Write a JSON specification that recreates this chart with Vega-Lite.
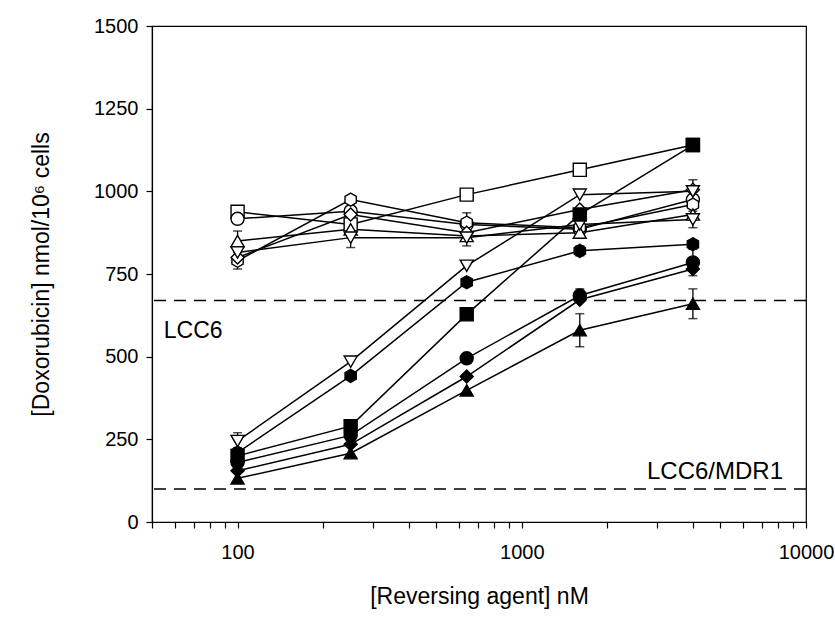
{
  "$schema": "https://vega.github.io/schema/vega-lite/v6.json",
  "autosize": "none",
  "width": 654,
  "height": 496,
  "padding": {"left": 152, "top": 26, "right": 29, "bottom": 98},
  "background": "white",
  "config": {
    "view": {"stroke": "black", "strokeWidth": 1.2},
    "font": "Liberation Sans",
    "axis": {
      "domainColor": "black", "tickColor": "black", "labelColor": "black", "titleColor": "black",
      "labelFont": "Liberation Sans", "titleFont": "Liberation Sans",
      "labelFontSize": 20, "titleFontSize": 23, "titleFontWeight": "normal",
      "grid": false, "tickSize": 6, "domainWidth": 1.2, "tickWidth": 1.2
    }
  },
  "datasets": {
    "pts": [
      {"series": "o-square", "conc": 100, "value": 938},
      {"series": "o-square", "conc": 250, "value": 900},
      {"series": "o-square", "conc": 640, "value": 990},
      {"series": "o-square", "conc": 1600, "value": 1065},
      {"series": "o-square", "conc": 4000, "value": 1140},
      {"series": "o-circle", "conc": 100, "value": 917},
      {"series": "o-circle", "conc": 250, "value": 940},
      {"series": "o-circle", "conc": 640, "value": 900},
      {"series": "o-circle", "conc": 1600, "value": 885},
      {"series": "o-circle", "conc": 4000, "value": 975, "lo": 950, "hi": 1000},
      {"series": "o-hexagon", "conc": 100, "value": 790, "lo": 765, "hi": 815},
      {"series": "o-hexagon", "conc": 250, "value": 975},
      {"series": "o-hexagon", "conc": 640, "value": 905, "lo": 880, "hi": 935},
      {"series": "o-hexagon", "conc": 1600, "value": 890},
      {"series": "o-hexagon", "conc": 4000, "value": 960},
      {"series": "o-triangle", "conc": 100, "value": 850, "lo": 820, "hi": 880},
      {"series": "o-triangle", "conc": 250, "value": 885},
      {"series": "o-triangle", "conc": 640, "value": 865},
      {"series": "o-triangle", "conc": 1600, "value": 875},
      {"series": "o-triangle", "conc": 4000, "value": 930},
      {"series": "o-diamond", "conc": 100, "value": 800},
      {"series": "o-diamond", "conc": 250, "value": 930},
      {"series": "o-diamond", "conc": 640, "value": 875},
      {"series": "o-diamond", "conc": 1600, "value": 945},
      {"series": "o-diamond", "conc": 4000, "value": 1005, "lo": 975, "hi": 1035},
      {"series": "o-down", "conc": 100, "value": 815},
      {"series": "o-down", "conc": 250, "value": 860, "lo": 830, "hi": 890},
      {"series": "o-down", "conc": 640, "value": 860, "lo": 835, "hi": 885},
      {"series": "o-down", "conc": 1600, "value": 900},
      {"series": "o-down", "conc": 4000, "value": 915, "lo": 890, "hi": 940},
      {"series": "o-down2", "conc": 100, "value": 245, "lo": 225, "hi": 270},
      {"series": "o-down2", "conc": 250, "value": 485},
      {"series": "o-down2", "conc": 640, "value": 775},
      {"series": "o-down2", "conc": 1600, "value": 990},
      {"series": "o-down2", "conc": 4000, "value": 1000},
      {"series": "f-square", "conc": 100, "value": 200},
      {"series": "f-square", "conc": 250, "value": 290},
      {"series": "f-square", "conc": 640, "value": 628},
      {"series": "f-square", "conc": 1600, "value": 930},
      {"series": "f-square", "conc": 4000, "value": 1140},
      {"series": "f-hexagon", "conc": 100, "value": 210},
      {"series": "f-hexagon", "conc": 250, "value": 442},
      {"series": "f-hexagon", "conc": 640, "value": 725},
      {"series": "f-hexagon", "conc": 1600, "value": 820, "lo": 805, "hi": 835},
      {"series": "f-hexagon", "conc": 4000, "value": 840},
      {"series": "f-circle", "conc": 100, "value": 180},
      {"series": "f-circle", "conc": 250, "value": 262},
      {"series": "f-circle", "conc": 640, "value": 495},
      {"series": "f-circle", "conc": 1600, "value": 685, "lo": 665, "hi": 705},
      {"series": "f-circle", "conc": 4000, "value": 785, "lo": 745, "hi": 825},
      {"series": "f-diamond", "conc": 100, "value": 155},
      {"series": "f-diamond", "conc": 250, "value": 235},
      {"series": "f-diamond", "conc": 640, "value": 440},
      {"series": "f-diamond", "conc": 1600, "value": 672},
      {"series": "f-diamond", "conc": 4000, "value": 765},
      {"series": "f-triangle", "conc": 100, "value": 132},
      {"series": "f-triangle", "conc": 250, "value": 208},
      {"series": "f-triangle", "conc": 640, "value": 398},
      {"series": "f-triangle", "conc": 1600, "value": 580, "lo": 530, "hi": 630},
      {"series": "f-triangle", "conc": 4000, "value": 660, "lo": 615, "hi": 705}
    ],
    "levels": [{"line": "LCC6", "level": 670}, {"line": "LCC6/MDR1", "level": 100}],
    "notes": [
      {"label": "LCC6", "conc": 55, "value": 578, "side": "left"},
      {"label": "LCC6/MDR1", "conc": 8300, "value": 152, "side": "right"}
    ]
  },
  "encoding": {
    "x": {
      "field": "conc", "type": "quantitative",
      "scale": {"type": "log", "domain": [50, 10000], "nice": false},
      "axis": {
        "title": "[Reversing agent] nM",
        "values": [50, 60, 70, 80, 90, 100, 200, 300, 400, 500, 600, 700, 800, 900, 1000, 2000, 3000, 4000, 5000, 6000, 7000, 8000, 9000, 10000],
        "labelExpr": "datum.value == 100 || datum.value == 1000 || datum.value == 10000 ? format(datum.value, 'd') : ''",
        "labelOverlap": false, "labelFlush": false, "labelBound": false,
        "labelPadding": 14, "titlePadding": 23
      }
    },
    "y": {
      "field": "value", "type": "quantitative",
      "scale": {"domain": [0, 1500], "nice": false, "zero": false},
      "axis": {
        "title": "[Doxorubicin] nmol/10⁶ cells",
        "values": [0, 250, 500, 750, 1000, 1250, 1500],
        "format": "d",
        "labelPadding": 8, "titlePadding": 40
      }
    }
  },
  "layer": [
    {
      "data": {"name": "levels"},
      "mark": {"type": "rule", "color": "black", "strokeWidth": 1.4, "strokeDash": [12, 8]},
      "encoding": {"y": {"field": "level", "type": "quantitative"}, "x": null}
    },
    {
      "data": {"name": "notes"},
      "transform": [{"filter": "datum.side == 'left'"}],
      "mark": {"type": "text", "align": "left", "baseline": "middle", "fontSize": 23, "font": "Liberation Sans", "color": "black"},
      "encoding": {"text": {"field": "label"}}
    },
    {
      "data": {"name": "notes"},
      "transform": [{"filter": "datum.side == 'right'"}],
      "mark": {"type": "text", "align": "right", "baseline": "middle", "fontSize": 24, "font": "Liberation Sans", "color": "black"},
      "encoding": {"text": {"field": "label"}}
    },
    {
      "data": {"name": "pts"},
      "mark": {"type": "line", "color": "black", "strokeWidth": 1.5},
      "encoding": {"detail": {"field": "series"}}
    },
    {
      "data": {"name": "pts"},
      "transform": [{"filter": "isValid(datum.lo)"}],
      "mark": {"type": "rule", "color": "black", "strokeWidth": 1.3},
      "encoding": {"y": {"field": "lo", "type": "quantitative"}, "y2": {"field": "hi"}}
    },
    {
      "data": {"name": "pts"},
      "transform": [{"filter": "isValid(datum.lo)"}],
      "mark": {"type": "tick", "color": "black", "orient": "horizontal", "size": 9, "thickness": 1.5},
      "encoding": {"y": {"field": "lo", "type": "quantitative"}}
    },
    {
      "data": {"name": "pts"},
      "transform": [{"filter": "isValid(datum.lo)"}],
      "mark": {"type": "tick", "color": "black", "orient": "horizontal", "size": 9, "thickness": 1.5},
      "encoding": {"y": {"field": "hi", "type": "quantitative"}}
    },
    {
      "data": {"name": "pts"},
      "mark": {"type": "point", "filled": false, "stroke": "black", "strokeWidth": 1.4, "opacity": 1, "size": 170},
      "encoding": {
        "shape": {
          "field": "series", "type": "nominal", "legend": null,
          "scale": {
            "domain": ["o-square", "o-circle", "o-hexagon", "o-triangle", "o-diamond", "o-down", "o-down2", "f-square", "f-hexagon", "f-circle", "f-diamond", "f-triangle"],
            "range": ["square", "circle", "M0,-1L0.866,-0.5L0.866,0.5L0,1L-0.866,0.5L-0.866,-0.5Z", "triangle-up", "diamond", "triangle-down", "triangle-down", "square", "M0,-1L0.866,-0.5L0.866,0.5L0,1L-0.866,0.5L-0.866,-0.5Z", "circle", "diamond", "triangle-up"]
          }
        },
        "fill": {
          "field": "series", "type": "nominal", "legend": null,
          "scale": {
            "domain": ["o-square", "o-circle", "o-hexagon", "o-triangle", "o-diamond", "o-down", "o-down2", "f-square", "f-hexagon", "f-circle", "f-diamond", "f-triangle"],
            "range": ["white", "white", "white", "white", "white", "white", "white", "black", "black", "black", "black", "black"]
          }
        }
      }
    }
  ]
}
